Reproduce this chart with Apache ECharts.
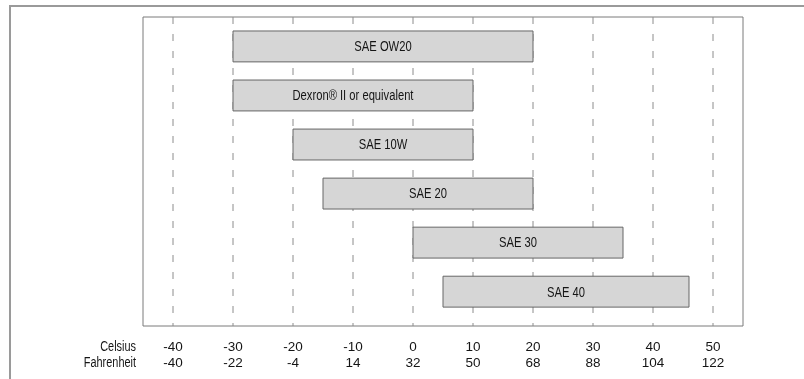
<!DOCTYPE html>
<html>
<head>
<meta charset="utf-8">
<style>
  html, body { margin: 0; padding: 0; background: #ffffff; }
  #chart { width: 804px; height: 379px; }
</style>
<script src="https://cdn.jsdelivr.net/npm/echarts@6/dist/echarts.min.js"></script>
</head>
<body>
<div id="chart"></div>
<script>
// Oil grades and their usable ambient temperature ranges (°C)
const oilGrades = ['SAE OW20', 'Dexron\u00AE II or equivalent', 'SAE 10W', 'SAE 20', 'SAE 30', 'SAE 40'];
const rangeStart = [-30, -30, -20, -15, 0, 5];
const rangeEnd = [20, 10, 10, 20, 35, 46];

// Temperature scale: Celsius ticks and the matching Fahrenheit labels
const celsiusTicks = [-40, -30, -20, -10, 0, 10, 20, 30, 40, 50];
const fahrenheitLabels = ['-40', '-22', '-4', '14', '32', '50', '68', '88', '104', '122'];

const FONT = '"Liberation Sans", Arial, sans-serif';
const TEXT = '#151515';
// horizontal squeeze giving the narrow lettering
const NARROW = 0.8;

const chart = echarts.init(document.getElementById('chart'), null, { renderer: 'canvas' });

const rangeData = oilGrades.map((name, i) => [rangeStart[i], rangeEnd[i], i]);
const gridData = celsiusTicks.map(v => [v]);

function baseXAxis(extra) {
  return Object.assign({
    type: 'value',
    min: -45,
    max: 55,
    position: 'bottom',
    axisLine: { show: false },
    axisTick: { show: false },
    splitLine: { show: false }
  }, extra);
}

const option = {
  backgroundColor: '#ffffff',
  animation: false,
  graphic: [
    {
      type: 'rect',
      shape: { x: 10, y: 6, width: 900, height: 500 },
      style: { fill: 'none', stroke: '#9a9a9a', lineWidth: 2 },
      z: -10,
      silent: true
    },
    {
      type: 'text', x: 136, y: 347, scaleX: 0.78,
      style: { text: 'Celsius', font: '14px ' + FONT, fill: TEXT, textAlign: 'right', textVerticalAlign: 'middle' }
    },
    {
      type: 'text', x: 136, y: 363, scaleX: 0.78,
      style: { text: 'Fahrenheit', font: '14px ' + FONT, fill: TEXT, textAlign: 'right', textVerticalAlign: 'middle' }
    }
  ],
  grid: {
    left: 143,
    top: 17,
    width: 600,
    height: 309,
    show: true,
    borderColor: '#7a7a7a',
    borderWidth: 1,
    backgroundColor: 'transparent'
  },
  xAxis: [
    baseXAxis({
      axisLabel: {
        show: true,
        customValues: celsiusTicks,
        margin: 14,
        fontFamily: FONT,
        fontSize: 13.5,
        color: TEXT
      }
    }),
    baseXAxis({
      offset: 16,
      axisLabel: {
        show: true,
        customValues: celsiusTicks,
        margin: 14,
        fontFamily: FONT,
        fontSize: 13.5,
        color: TEXT,
        formatter: function (v) {
          const idx = celsiusTicks.indexOf(Math.round(v));
          return idx >= 0 ? fahrenheitLabels[idx] : '';
        }
      }
    })
  ],
  yAxis: {
    type: 'value',
    inverse: true,
    min: -0.6,
    max: 5.7,
    axisLine: { show: false },
    axisTick: { show: false },
    axisLabel: { show: false },
    splitLine: { show: false }
  },
  series: [
    {
      // dashed vertical reference lines at each Celsius tick
      type: 'custom',
      xAxisIndex: 0,
      z: 1,
      silent: true,
      data: gridData,
      renderItem: function (params, api) {
        const top = api.coord([api.value(0), -0.6]);
        const bottom = api.coord([api.value(0), 5.7]);
        return {
          type: 'line',
          shape: { x1: top[0], y1: top[1], x2: bottom[0], y2: bottom[1] },
          style: { stroke: '#8c8c8c', lineWidth: 1, lineDash: [7, 10] }
        };
      }
    },
    {
      // temperature range bars with grade names
      type: 'custom',
      xAxisIndex: 0,
      z: 2,
      data: rangeData,
      encode: { x: [0, 1], y: 2 },
      renderItem: function (params, api) {
        const row = api.value(2);
        const a = api.coord([api.value(0), row]);
        const b = api.coord([api.value(1), row]);
        const h = api.size([0, 0.63])[1];
        const name = oilGrades[params.dataIndex];
        return {
          type: 'group',
          children: [
            {
              type: 'rect',
              shape: { x: a[0], y: a[1] - h / 2, width: b[0] - a[0], height: h },
              style: { fill: '#d6d6d6', stroke: '#666666', lineWidth: 1 }
            },
            {
              type: 'text',
              x: (a[0] + b[0]) / 2,
              y: a[1] + 1,
              scaleX: NARROW,
              style: {
                text: name,
                textAlign: 'center',
                textVerticalAlign: 'middle',
                font: '14px ' + FONT,
                fill: TEXT
              }
            }
          ]
        };
      }
    }
  ]
};

chart.setOption(option);
</script>
</body>
</html>
